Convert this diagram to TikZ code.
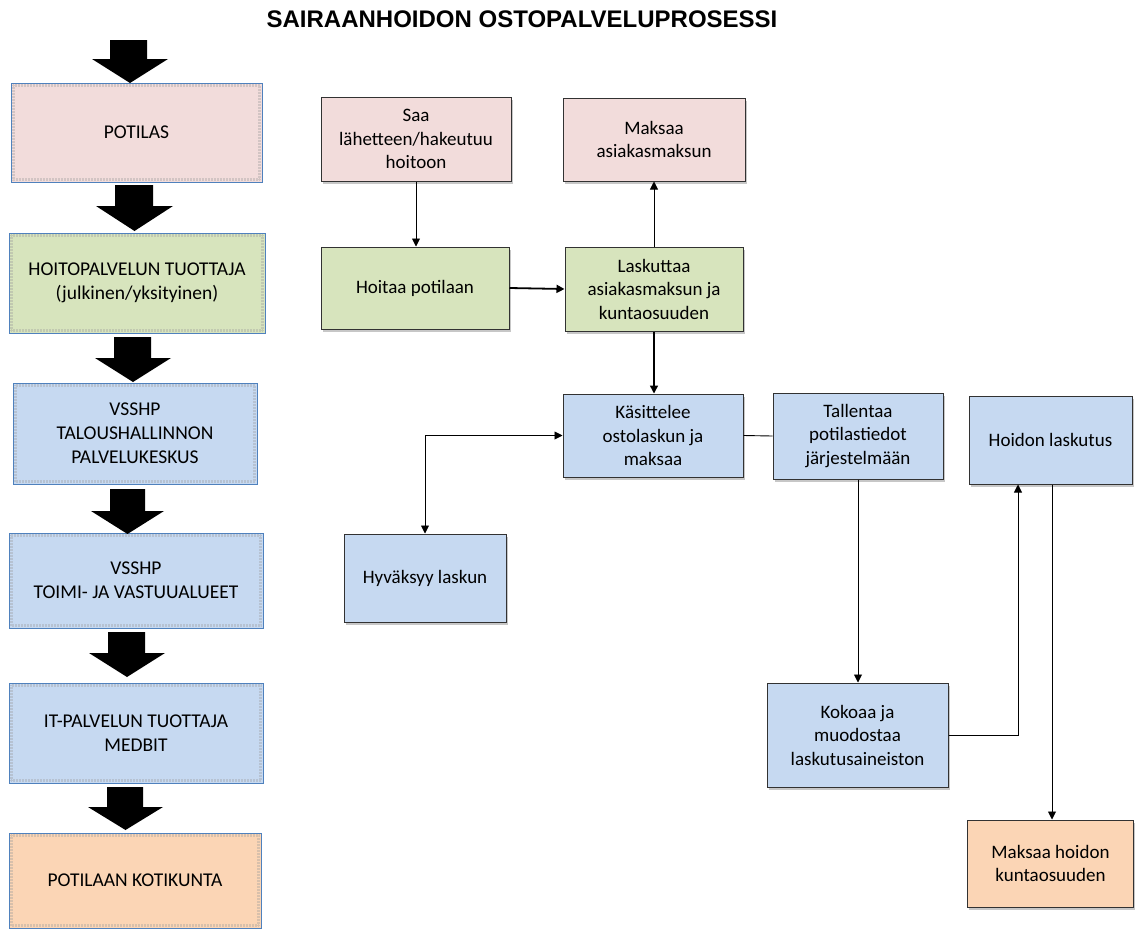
\documentclass[tikz,border=0pt]{standalone}
\usepackage{fontspec}
\setmainfont{Carlito}
\newfontfamily\titlefont{Liberation Sans}
\usetikzlibrary{arrows.meta,shadows}

\definecolor{pinkfill}{RGB}{242,220,219}
\definecolor{greenfill}{RGB}{215,228,189}
\definecolor{bluefill}{RGB}{198,217,241}
\definecolor{orangefill}{RGB}{251,213,181}
\definecolor{laneedge}{RGB}{79,129,189}
\definecolor{boxedge}{RGB}{50,50,50}

% black block arrow pointing down: shaft left/right, top, head start, head left/right, tip
\newcommand\blockdown[7]{%
  \fill (#1,#3) -- (#2,#3) -- (#2,#4) -- (#6,#4) -- ({(#5+#6)/2},#7)
        -- (#5,#4) -- (#1,#4) -- cycle;}

\tikzset{
  lane/.style={draw=laneedge, line width=0.8pt, align=center, inner sep=2pt,
    font=\fontsize{19.5}{24}\selectfont},
  grain/.style={draw=black!40, line width=3pt, opacity=0.35,
    dash pattern=on 0.6pt off 0.9pt},
  task/.style={draw=boxedge, line width=1pt, align=center, inner sep=2pt,
    font=\fontsize{19}{23.5}\selectfont,
    drop shadow={shadow xshift=1.5pt, shadow yshift=-3pt, fill=black!22, opacity=1}},
  flow/.style={draw=black, line width=0.9pt, -{Triangle[length=8pt,width=8pt]}},
  plain/.style={draw=black, line width=0.9pt},
}

\begin{document}
\begin{tikzpicture}[x=1pt,y=-1pt]
\useasboundingbox[fill=white] (0,0) rectangle (1136,930);

% title
\node[font=\titlefont\bfseries\fontsize{24}{28}\selectfont] (title) at (522,19)
  {SAIRAANHOIDON OSTOPALVELUPROSESSI};

% left column: parties of the process
\node[lane, fill=pinkfill,   minimum width=251pt, minimum height=99pt]  (potilas) at (136.5,132.5) {POTILAS};
\node[lane, fill=greenfill,  minimum width=256pt, minimum height=100pt] (tuottaja) at (137,283) {HOITOPALVELUN TUOTTAJA\\(julkinen/yksityinen)};
\node[lane, fill=bluefill,   minimum width=244pt, minimum height=101pt] (talous) at (135,433.5) {VSSHP\\TALOUSHALLINNON\\PALVELUKESKUS};
\node[lane, fill=bluefill,   minimum width=254pt, minimum height=95pt]  (toimi) at (136,580.5) {VSSHP\\TOIMI- JA VASTUUALUEET};
\node[lane, fill=bluefill,   minimum width=254pt, minimum height=100pt] (it) at (136,733) {IT-PALVELUN TUOTTAJA\\MEDBIT};
\node[lane, fill=orangefill, minimum width=252pt, minimum height=95pt]  (kotikunta) at (135,880.5) {POTILAAN KOTIKUNTA};

\foreach \n in {potilas,tuottaja,talous,toimi,it,kotikunta}
  \draw[grain] ([shift={(2.5pt,-2.5pt)}]\n.north west) rectangle ([shift={(-2.5pt,2.5pt)}]\n.south east);

% block arrows between the parties
\blockdown{110}{147}{40}{59}{92}{168}{83}
\blockdown{115}{153}{185}{206}{96}{173}{231}
\blockdown{114}{151}{337}{358}{95}{171}{382}
\blockdown{110}{145}{489}{511}{91}{164}{534}
\blockdown{108}{145}{632}{653}{89}{165}{677}
\blockdown{107}{143}{787}{807}{88}{163}{830}

% process steps
\node[task, fill=pinkfill,   minimum width=190pt, minimum height=84pt]  (saa) at (416,139) {Saa\\lähetteen/hakeutuu\\hoitoon};
\node[task, fill=pinkfill,   minimum width=182pt, minimum height=83pt]  (maksaa) at (654,139.5) {Maksaa\\asiakasmaksun};
\node[task, fill=greenfill,  minimum width=188pt, minimum height=82pt]  (hoitaa) at (415,288) {Hoitaa potilaan};
\node[task, fill=greenfill,  minimum width=178pt, minimum height=84pt]  (laskuttaa) at (654,289) {Laskuttaa\\asiakasmaksun ja\\kuntaosuuden};
\node[task, fill=bluefill,   minimum width=180pt, minimum height=83pt]  (kasittelee) at (653,435.5) {Käsittelee\\ostolaskun ja\\maksaa};
\node[task, fill=bluefill,   minimum width=170pt, minimum height=86pt]  (tallentaa) at (858,436) {Tallentaa\\potilastiedot\\järjestelmään};
\node[task, fill=bluefill,   minimum width=163pt, minimum height=88pt]  (hoidonlask) at (1050.5,440) {Hoidon laskutus};
\node[task, fill=bluefill,   minimum width=162pt, minimum height=88pt]  (hyvaksyy) at (425,578) {Hyväksyy laskun};
\node[task, fill=bluefill,   minimum width=181pt, minimum height=104pt] (kokoaa) at (857.5,735) {Kokoaa ja\\muodostaa\\laskutusaineiston};
\node[task, fill=orangefill, minimum width=166pt, minimum height=87pt]  (kuntaosuus) at (1050.5,863.5) {Maksaa hoidon\\kuntaosuuden};

% connectors
\draw[flow] (saa.south) -- (saa.south |- hoitaa.north);
\draw[flow, line width=1.8pt] (hoitaa.east) -- (laskuttaa.west);
\draw[flow] (laskuttaa.north) -- (maksaa.south);
\draw[flow, line width=1.4pt] (laskuttaa.south) -- (laskuttaa.south |- kasittelee.north);
\draw[flow, {Triangle[length=8pt,width=8pt]}-{Triangle[length=8pt,width=8pt]}]
  (hyvaksyy.north) |- (kasittelee.west);
\draw[plain] (kasittelee.east) -- (tallentaa.west);
\draw[flow] (tallentaa.south) -- (tallentaa.south |- kokoaa.north);
\draw[flow] (kokoaa.east) -| ([xshift=-32.5pt]hoidonlask.south);
\draw[flow] ([xshift=1.5pt]hoidonlask.south) -- ([xshift=1.5pt]hoidonlask.south |- kuntaosuus.north);
\end{tikzpicture}
\end{document}
